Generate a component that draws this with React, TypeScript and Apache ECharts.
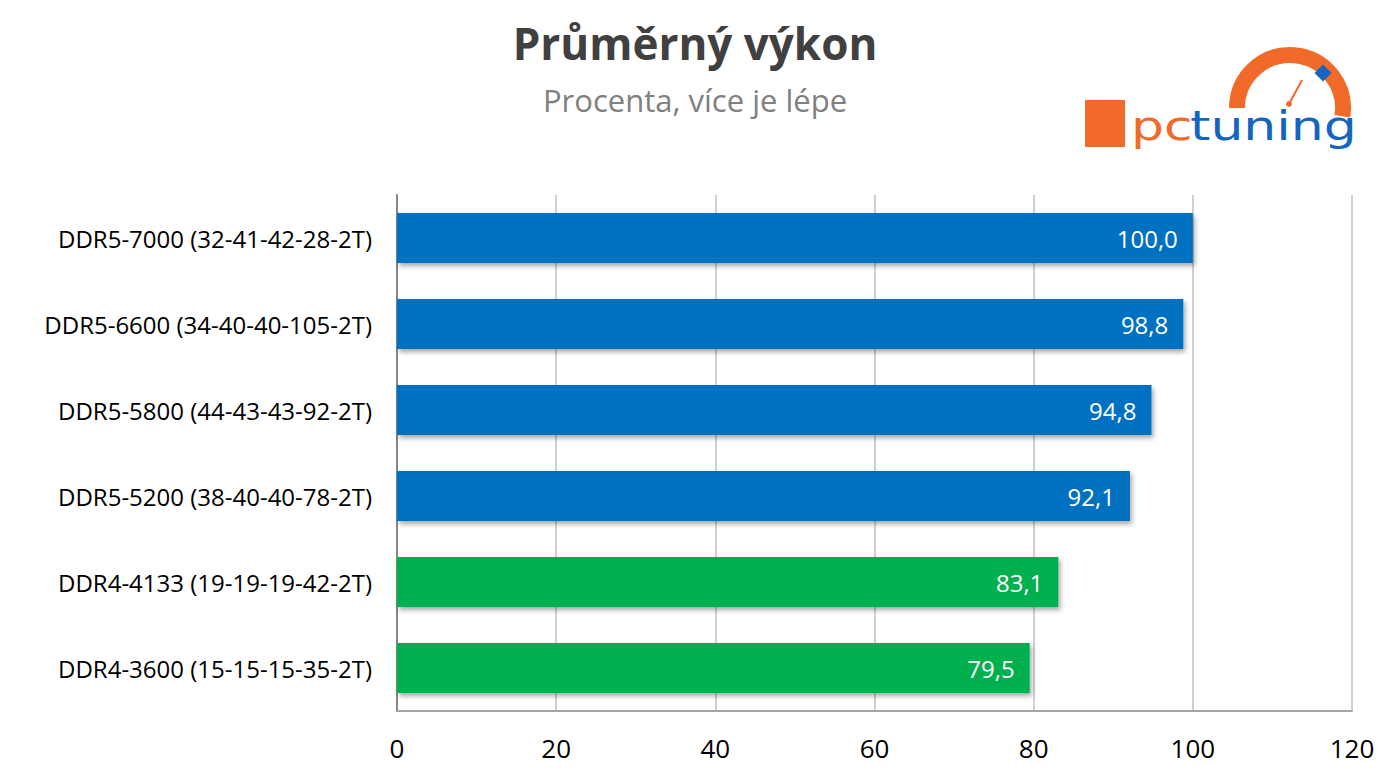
import React, { useEffect, useRef } from "react";
import * as echarts from "echarts";

const categories = [
  "DDR5-7000 (32-41-42-28-2T)",
  "DDR5-6600 (34-40-40-105-2T)",
  "DDR5-5800 (44-43-43-92-2T)",
  "DDR5-5200 (38-40-40-78-2T)",
  "DDR4-4133 (19-19-19-42-2T)",
  "DDR4-3600 (15-15-15-35-2T)",
];
const values = [100.0, 98.8, 94.8, 92.1, 83.1, 79.5];
const memoryType = ["DDR5", "DDR5", "DDR5", "DDR5", "DDR4", "DDR4"];
const typeColors: Record<string, string> = { DDR5: "#0070C0", DDR4: "#00B050" };
const titleText = "Průměrný výkon";
const subtitleText = "Procenta, více je lépe";

const FONT = "'Open Sans', Lato, sans-serif";

export default function App() {
  const ref = useRef<HTMLDivElement>(null);
  useEffect(() => {
    document.body.style.margin = "0";
    const chart = echarts.init(ref.current!, undefined, { renderer: "svg" });
    const option: any = {
      animation: false,
      backgroundColor: "#ffffff",
      title: [
        {
          text: titleText,
          left: "center",
          top: 16,
          textStyle: { fontFamily: FONT, fontSize: 44, fontWeight: "bold", color: "#404040" },
        },
        {
          text: subtitleText,
          left: "center",
          top: 79,
          textStyle: { fontFamily: FONT, fontSize: 31, fontWeight: "normal", color: "#808080" },
        },
      ],
      grid: { left: 397, right: 38, top: 195, bottom: 66, containLabel: false },
      xAxis: {
        type: "value",
        min: 0,
        max: 120,
        interval: 20,
        axisLine: { show: true, lineStyle: { color: "#a6a6a6", width: 2 } },
        axisTick: { show: false },
        splitLine: { show: true, lineStyle: { color: "#d0d0d0", width: 2 } },
        axisLabel: { fontFamily: FONT, fontSize: 26, color: "#000000", margin: 24 },
      },
      yAxis: {
        type: "category",
        inverse: true,
        data: categories,
        axisLine: { show: true, lineStyle: { color: "#868686", width: 2 } },
        axisTick: { show: false },
        axisLabel: { fontFamily: FONT, fontSize: 24, color: "#000000", margin: 25 },
      },
      series: [
        {
          type: "bar",
          barWidth: 50,
          data: values.map((v, i) => ({
            value: v,
            itemStyle: { color: typeColors[memoryType[i]] },
          })),
          itemStyle: {
            shadowBlur: 5,
            shadowOffsetX: 2,
            shadowOffsetY: 3,
            shadowColor: "rgba(0,0,0,0.35)",
          },
          label: {
            show: true,
            position: "insideRight",
            distance: 15,
            fontFamily: FONT,
            fontSize: 24,
            color: "#ffffff",
            formatter: (p: any) => p.value.toFixed(1).replace(".", ","),
          },
        },
      ],
      graphic: [
        { type: "rect", shape: { x: 1085, y: 100, width: 40, height: 47 }, style: { fill: "#F26A2A" } },
        {
          type: "arc",
          shape: { cx: 1290, cy: 108, r: 53, startAngle: Math.PI, endAngle: Math.PI * 2.05 },
          style: { stroke: "#F26A2A", lineWidth: 16, fill: "none" },
        },
        {
          type: "line",
          shape: { x1: 1289, y1: 104, x2: 1302, y2: 80 },
          style: { stroke: "#F26A2A", lineWidth: 2 },
        },
        { type: "circle", shape: { cx: 1289, cy: 104, r: 3 }, style: { fill: "#F26A2A" } },
        {
          type: "rect",
          shape: { x: -6, y: -6, width: 12, height: 12 },
          x: 1323,
          y: 73,
          rotation: Math.PI / 4,
          style: { fill: "#1565C0" },
        },
        {
          type: "text",
          x: 1131,
          y: 106,
          scaleY: 0.78,
          style: {
            x: 0,
            y: 0,
            text: "pc",
            fill: "#F26A2A",
            font: "normal 52px 'DejaVu Sans', sans-serif",
          },
        },
        {
          type: "text",
          x: 1190,
          y: 106,
          scaleY: 0.78,
          style: {
            x: 0,
            y: 0,
            text: "tuning",
            fill: "#1565C0",
            font: "normal 52px 'DejaVu Sans', sans-serif",
          },
        },
      ],
    };
    chart.setOption(option);
    return () => chart.dispose();
  }, []);
  return <div ref={ref} style={{ width: 1390, height: 777 }} />;
}
